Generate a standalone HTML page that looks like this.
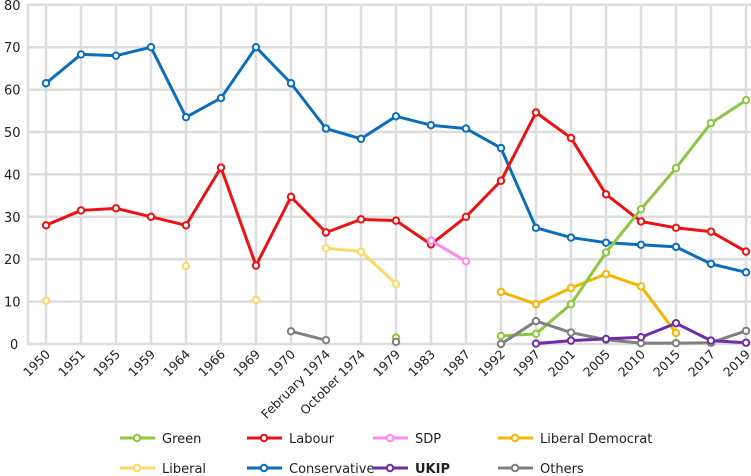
<!DOCTYPE html>
<html><head><meta charset="utf-8"><style>
html,body{margin:0;padding:0;background:#fff;}
svg{display:block;font-family:"DejaVu Sans","Liberation Sans",sans-serif;}
</style></head><body>
<svg id="c" width="751" height="476" xmlns="http://www.w3.org/2000/svg"></svg>
<script>
const s=document.getElementById('c');
const cats=["1950","1951","1955","1959","1964","1966","1969","1970","February 1974","October 1974","1979","1983","1987","1992","1997","2001","2005","2010","2015","2017","2019"];
const X=i=>46+i*35, Y=v=>344-v*4.24;
let h='';
// grid
for(let v=0;v<=80;v+=10){h+=`<line x1="27" x2="751" y1="${Y(v)}" y2="${Y(v)}" stroke="#ddd" stroke-width="2.5"/>`;
h+=`<text x="${v?4:10}" y="${Y(v)+5}" font-size="13" fill="#222">${v}</text>`;}
h+=`<line x1="28" x2="28" y1="${Y(80)}" y2="${Y(0)}" stroke="#ddd" stroke-width="2.5"/>`;
cats.forEach((c,i)=>{h+=`<line x1="${X(i)}" x2="${X(i)}" y1="${Y(80)}" y2="${Y(0)}" stroke="#ddd" stroke-width="2.5"/>`;
h+=`<text transform="translate(${X(i)+5},355) rotate(-45)" text-anchor="end" font-size="12.5" fill="#222">${c}</text>`;});
const N=null;
const series=[
["#0a6ebd",[61.5,68.3,68,70,53.5,58,70,61.5,50.8,48.4,53.7,51.6,50.8,46.2,27.4,25.1,23.9,23.4,22.9,18.9,16.9]],
["#ee1111",[28,31.5,32,30,28,41.6,18.5,34.7,26.3,29.4,29.1,23.5,30,38.5,54.6,48.6,35.3,28.9,27.4,26.5,21.8]],
["#ffd966",[10.2,N,N,N,18.4,N,10.4,N,22.6,21.8,14.2,N,N,N,N,N,N,N,N,N,N]],
["#ff88ee",[N,N,N,N,N,N,N,N,N,N,N,24.4,19.5,N,N,N,N,N,N,N,N]],
["#f7b500",[N,N,N,N,N,N,N,N,N,N,N,N,N,12.3,9.4,13.2,16.5,13.6,2.6,N,N]],
["#8dc63f",[N,N,N,N,N,N,N,N,N,N,1.5,N,N,1.9,2.4,9.4,21.6,31.8,41.5,52.1,57.5]],
["#808080",[N,N,N,N,N,N,N,3,0.9,N,0.5,N,N,0,5.4,2.7,1,0.2,0.2,0.3,3.1]],
["#6f2da8",[N,N,N,N,N,N,N,N,N,N,N,N,N,N,0.1,0.8,1.2,1.6,4.9,0.8,0.3]]];
series.forEach(([col,d])=>{
 let seg=[];const flush=()=>{if(seg.length>1)h+=`<polyline points="${seg.join(' ')}" fill="none" stroke="${col}" stroke-width="3" stroke-linejoin="round"/>`;seg=[];};
 d.forEach((v,i)=>{if(v===N)flush();else seg.push(X(i)+','+Y(v));});flush();
 d.forEach((v,i)=>{if(v!==N)h+=`<circle cx="${X(i)}" cy="${Y(v)}" r="3.2" fill="#fff" stroke="${col}" stroke-width="2"/>`;});
});
const leg=[["#8dc63f","Green",120,438],["#ee1111","Labour",247,438],["#ff88ee","SDP",373,438],["#f7b500","Liberal Democrat",498,438],
["#ffd966","Liberal",120,468],["#0a6ebd","Conservative",247,468],["#6f2da8","UKIP",373,468,1],["#808080","Others",498,468]];
leg.forEach(([c,t,x,y,b])=>{h+=`<line x1="${x}" x2="${x+35}" y1="${y}" y2="${y}" stroke="${c}" stroke-width="3"/><circle cx="${x+17}" cy="${y}" r="3.2" fill="#fff" stroke="${c}" stroke-width="2"/>`;
h+=`<text x="${x+42}" y="${y+5}" font-size="13" fill="#222"${b?' font-weight="bold"':''}>${t}</text>`;});
s.innerHTML=h;
</script>
</body></html>
